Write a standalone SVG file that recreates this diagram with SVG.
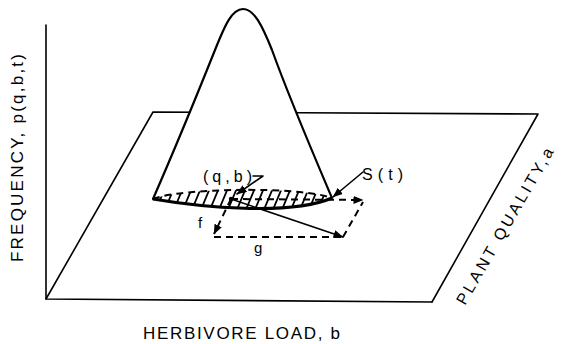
<svg xmlns="http://www.w3.org/2000/svg" width="562" height="344" viewBox="0 0 562 344">
<style>
.ln{fill:none;stroke:#000;stroke-width:1.6;stroke-linecap:round;stroke-linejoin:round}
.th{fill:none;stroke:#000;stroke-width:2.2;stroke-linecap:round}
.ds{fill:none;stroke:#000;stroke-width:2;stroke-dasharray:7 5}
.ht{stroke:#000;stroke-width:1.8}
.tx{font-family:"Liberation Sans",Arial,sans-serif;fill:#000}
</style>
<defs>
<marker id="ah" viewBox="0 0 10 8" refX="9.5" refY="4" markerWidth="10" markerHeight="8" markerUnits="userSpaceOnUse" orient="auto">
<path d="M0,0 L10,4 L0,8 Z" fill="#000"/>
</marker>
<clipPath id="reg">
<path d="M153,199 C180,188 300,186 332,198 C290,216 200,207 153,199 Z"/>
</clipPath>
</defs>
<rect width="562" height="344" fill="#fff"/>
<g id="axes">
<path class="ln" d="M46,25 L46,299 L432,302"/>
</g>
<g id="plane">
<path class="ln" d="M46,299 L153,112 L538,114 L432,302"/>
</g>
<g id="bell">
<path d="M153,199 C170,160 195,100 215,50 C225,25 232,9 243,9 C254,9 262,25 272,50 C290,100 318,165 332,198 Z" fill="#fff" stroke="none"/>
<path class="th" d="M153,199 C170,160 195,100 215,50 C225,25 232,9 243,9 C254,9 262,25 272,50 C290,100 318,165 332,198"/>
</g>
<g id="region">
<g clip-path="url(#reg)">
<path class="ht" d="M155,212 L165,188 M164,212 L174,188 M173,212 L183,188 M182,212 L192,188 M191,212 L201,188 M200,212 L210,188 M209,212 L219,188 M218,212 L228,188 M227,212 L237,188 M236,212 L246,188 M245,212 L255,188 M254,212 L264,188 M263,212 L273,188 M272,212 L282,188 M281,212 L291,188 M290,212 L300,188 M299,212 L309,188 M308,212 L318,188 M317,212 L327,188"/>
</g>
<path class="ds" d="M153,199 C180,188 300,186 332,198"/>
<path d="M153,199 C200,207 290,216 332,198" fill="none" stroke="#000" stroke-width="3"/>
<circle cx="231" cy="199" r="2.2" fill="#000"/>
</g>
<g id="connectors">
<path class="ln" d="M253,176 L263,176 L237,194" marker-end="url(#ah)"/>
<path class="ln" d="M363,172 L333,197" marker-end="url(#ah)"/>
<path class="ds" d="M231,199 L214,234" marker-end="url(#ah)"/>
<path class="ds" d="M231,199 L363,200" marker-end="url(#ah)"/>
<path class="ln" d="M231,199 L343,237" marker-end="url(#ah)"/>
<path class="ds" d="M214,237 L343,237"/>
<path class="ds" d="M343,237 L363,202"/>
</g>
<g id="labels">
<text class="tx" x="203" y="182" font-size="16" textLength="49" lengthAdjust="spacing">(q,b)</text>
<text class="tx" x="362" y="180" font-size="16" textLength="41" lengthAdjust="spacing">S(t)</text>
<text class="tx" x="198" y="228" font-size="15">f</text>
<text class="tx" x="254" y="253" font-size="15">g</text>
<text class="tx" x="143" y="339" font-size="17" textLength="197" lengthAdjust="spacing">HERBIVORE LOAD, b</text>
<text class="tx" font-size="17" transform="translate(23,262) rotate(-90)" textLength="208" lengthAdjust="spacing">FREQUENCY, p(q,b,t)</text>
<text class="tx" font-size="16" transform="translate(465,306) rotate(-60)" textLength="178" lengthAdjust="spacing">PLANT QUALITY,a</text>
</g>
</svg>
